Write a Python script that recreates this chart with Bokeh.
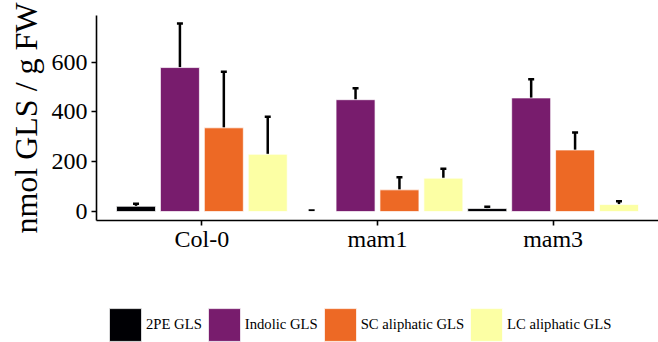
from bokeh.plotting import figure
from bokeh.layouts import column
from bokeh.models import ColumnDataSource, FactorRange, Range1d, Whisker, TeeHead, Legend, LegendItem, FixedTicker
from bokeh.transform import dodge
from bokeh.embed import file_html
from bokeh.resources import INLINE

genotypes = ["Col-0", "mam1", "mam3"]
series = ["2PE GLS", "Indolic GLS", "SC aliphatic GLS", "LC aliphatic GLS"]
colors = ["#000004", "#781C6D", "#ED6925", "#FCFFA4"]

pe2 = [21, 0, 12]
pe2_up = [31, 4, 19]
indolic = [578, 449, 456]
indolic_up = [755, 495, 531]
sc = [336, 87, 247]
sc_up = [561, 138, 317]
lc = [230, 134, 28]
lc_up = [381, 172, 41]

values = [pe2, indolic, sc, lc]
uppers = [pe2_up, indolic_up, sc_up, lc_up]
offsets = [-0.375, -0.125, 0.125, 0.375]

FONT = "Liberation Serif"

p = figure(width=658, height=262, output_backend="svg", toolbar_location=None,
           x_range=FactorRange(factors=genotypes, range_padding=0.1, range_padding_units="absolute"),
           y_range=Range1d(-36, 787),
           min_border_left=96, min_border_right=0, min_border_top=15, min_border_bottom=42)
p.outline_line_color = None
p.xgrid.grid_line_color = None
p.ygrid.grid_line_color = None

data = {"g": genotypes}
for i in range(4):
    data[f"v{i}"] = values[i]
    data[f"u{i}"] = uppers[i]
src = ColumnDataSource(data)

for i in range(4):
    p.vbar(x=dodge("g", offsets[i], range=p.x_range), top=f"v{i}", bottom=0, width=0.222,
           source=src, fill_color=colors[i], line_color="white", line_width=0.7)
    w = Whisker(base=dodge("g", offsets[i], range=p.x_range), lower=f"v{i}", upper=f"u{i}", source=src,
                line_color="black", line_width=2.5,
                upper_head=TeeHead(size=6, line_width=2.5, line_color="black"), lower_head=None)
    p.add_layout(w)

for ax in (p.xaxis[0], p.yaxis[0]):
    ax.axis_line_color = "black"
    ax.axis_line_width = 1.6
    ax.major_tick_line_color = "black"
    ax.major_tick_line_width = 1.6
    ax.major_tick_in = 0
    ax.major_tick_out = 5
    ax.minor_tick_line_color = None
    ax.major_label_text_font = FONT
    ax.major_label_text_font_size = "24px"
    ax.major_label_text_color = "black"

p.yaxis[0].ticker = FixedTicker(ticks=[0, 200, 400, 600])
p.yaxis[0].major_label_standoff = 4
p.yaxis[0].axis_label = "nmol GLS / g FW"
p.yaxis[0].axis_label_text_font = FONT
p.yaxis[0].axis_label_text_font_size = "32px"
p.yaxis[0].axis_label_text_font_style = "normal"
p.yaxis[0].axis_label_text_color = "black"
p.yaxis[0].axis_label_standoff = 5
p.xaxis[0].major_label_standoff = 0

# legend strip below the plot
lg = figure(width=658, height=80, output_backend="svg", toolbar_location=None,
            x_range=FactorRange(factors=genotypes), y_range=Range1d(0, 1),
            x_axis_type=None, y_axis_type=None,
            min_border_left=0, min_border_right=0, min_border_top=0, min_border_bottom=0)
lg.outline_line_color = None
lg.xgrid.grid_line_color = None
lg.ygrid.grid_line_color = None
items = []
for i in range(4):
    r = lg.vbar(x=dodge("g", offsets[i], range=lg.x_range), top=f"v{i}", bottom=0, width=0.222,
                source=src, fill_color=colors[i], line_color="white", line_width=0.7, visible=False)
    items.append(LegendItem(label=series[i], renderers=[r]))

legend = Legend(items=items, orientation="horizontal", location=(9, -3),
                glyph_width=40, glyph_height=41, label_standoff=1, spacing=2,
                padding=0, margin=0, border_line_color=None, background_fill_alpha=0,
                inactive_fill_alpha=0,
                label_text_font=FONT, label_text_font_size="14.67px", label_text_color="black")
lg.add_layout(legend, "center")

layout = column(p, lg, spacing=0)
open("out.html", "w").write(file_html(layout, INLINE))
